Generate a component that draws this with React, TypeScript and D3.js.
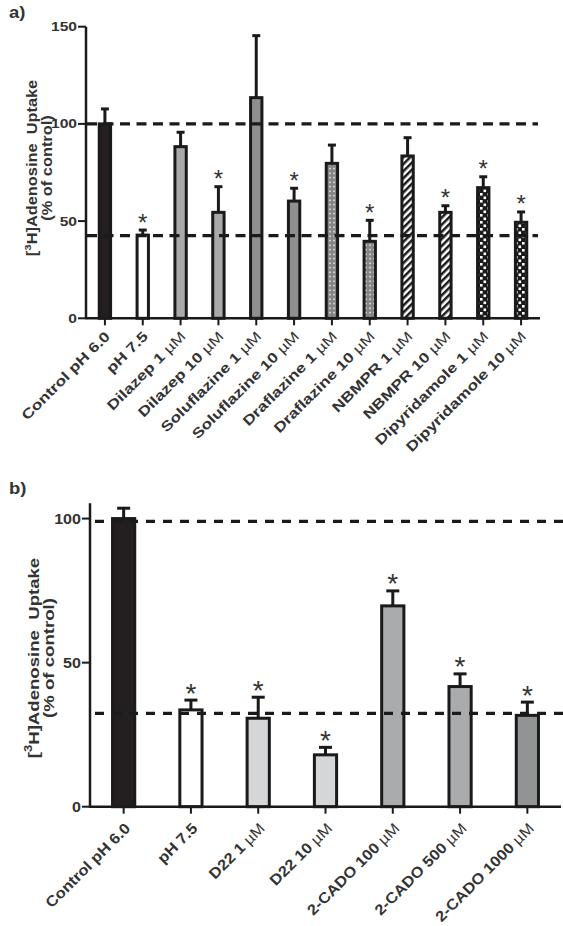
import React from "react";
import * as d3 from "d3";

// Panel a data
const catsA = ["Control pH 6.0", "pH 7.5", "Dilazep 1 µM", "Dilazep 10 µM", "Soluflazine 1 µM", "Soluflazine 10 µM", "Draflazine 1 µM", "Draflazine 10 µM", "NBMPR 1 µM", "NBMPR 10 µM", "Dipyridamole 1 µM", "Dipyridamole 10 µM"];
const valsA = [100, 42.8, 88.3, 54.5, 113.5, 60.3, 79.7, 39.6, 83.5, 54.5, 67.2, 49.4];
const errsA = [107.7, 45.4, 95.7, 67.7, 145.4, 66.9, 89.1, 50.4, 92.9, 57.9, 72.8, 54.7];
const starsA = [false, true, false, true, false, true, false, true, false, true, true, true];
const fillsA = ["#231f20", "#ffffff", "#a9a9a9", "#a9a9a9", "#8f8f8f", "#8f8f8f", "url(#dots)", "url(#dots)", "url(#stripes)", "url(#stripes)", "url(#checker)", "url(#checker)"];
const ticksA = [0, 50, 100, 150];
const refA = [100, 42.5];

// Panel b data
const catsB = ["Control pH 6.0", "pH 7.5", "D22 1 µM", "D22 10 µM", "2-CADO 100 µM", "2-CADO 500 µM", "2-CADO 1000 µM"];
const valsB = [100, 33.6, 30.7, 18.0, 69.7, 41.7, 31.7];
const errsB = [103.6, 37.0, 38.0, 20.6, 74.9, 46.1, 36.3];
const starsB = [false, true, true, true, true, true, true];
const fillsB = ["#231f20", "#ffffff", "#d5d6d8", "#d5d6d8", "#aaabad", "#aaabad", "#929395"];
const ticksB = [0, 50, 100];
const refB = [99, 32.4];

const FONT = "'Liberation Sans', Arial, sans-serif";
const TXT = "#333";

type PanelProps = {
  label: string; labelY: number;
  cats: string[]; vals: number[]; errs: number[]; stars: boolean[]; fills: string[];
  ticks: number[]; refs: number[];
  x0: number; x1: number; y0: number; yTop: number; yMax: number;
  barFrac: number; capW: number; tickFont: number; tickSx: number;
  axisFont: number; axisSx: number; catFont: number; catSx: number;
  catDx: number; catDy: number; starFont: number; starDy: number;
  yLabelCenter: number; yl1: number; yl2: number; dash: string; refX0: number; refX1: number;
};

function Panel(p: PanelProps) {
  const x = d3.scaleBand<string>().domain(p.cats).range([p.x0, p.x1]).padding(0);
  const y = d3.scaleLinear().domain([0, p.yMax]).range([p.y0, p.yTop]);
  const bw = x.step() * p.barFrac;
  return (
    <g>
      <text transform={`translate(9,${p.labelY}) scale(1.15,1)`} fontFamily={FONT} fontWeight="bold" fontSize={16} fill={TXT}>{p.label}</text>
      {/* bars */}
      {p.cats.map((c, i) => {
        const cx = x(c)! + x.bandwidth() / 2;
        return (
          <g key={c}>
            <line x1={cx} x2={cx} y1={y(p.vals[i])} y2={y(p.errs[i])} stroke="#1a1a1a" strokeWidth={3} />
            <line x1={cx - p.capW / 2} x2={cx + p.capW / 2} y1={y(p.errs[i])} y2={y(p.errs[i])} stroke="#1a1a1a" strokeWidth={3} />
            <rect x={cx - bw / 2} y={y(p.vals[i])} width={bw} height={p.y0 - y(p.vals[i])} fill={p.fills[i]} stroke="#1a1a1a" strokeWidth={3} />
            {p.stars[i] && (
              <text x={cx} y={y(p.errs[i]) + p.starDy} textAnchor="middle" fontFamily={FONT} fontSize={p.starFont} fill={TXT}>*</text>
            )}
          </g>
        );
      })}
      {/* reference dashed lines */}
      {p.refs.map((r, i) => (
        <line key={i} x1={p.refX0} x2={p.refX1} y1={y(r)} y2={y(r)} stroke="#1a1a1a" strokeWidth={3.2} strokeDasharray={p.dash} />
      ))}
      {/* y axis */}
      <line x1={p.x0} x2={p.x0} y1={y(p.yMax)} y2={p.y0 + 1} stroke="#1a1a1a" strokeWidth={2.5} />
      {p.ticks.map((t) => (
        <g key={t}>
          <line x1={p.x0 - 8} x2={p.x0} y1={y(t)} y2={y(t)} stroke="#1a1a1a" strokeWidth={2} />
          <text transform={`translate(${p.x0 - 9},${y(t)}) scale(${p.tickSx},1)`} dy="0.36em" textAnchor="end" fontFamily={FONT} fontWeight="bold" fontSize={p.tickFont} fill={TXT}>{t}</text>
        </g>
      ))}
      {/* x axis */}
      <line x1={p.x0} x2={p.x1} y1={p.y0} y2={p.y0} stroke="#1a1a1a" strokeWidth={2.5} />
      {p.cats.map((c) => {
        const cx = x(c)! + x.bandwidth() / 2;
        return (
          <g key={c}>
            <line x1={cx} x2={cx} y1={p.y0} y2={p.y0 + 7} stroke="#1a1a1a" strokeWidth={2} />
            <text transform={`translate(${cx + p.catDx},${p.y0 + p.catDy}) rotate(-45) scale(${p.catSx},1)`} textAnchor="end" fontFamily={FONT} fontWeight="bold" fontSize={p.catFont} fill={TXT}>
              {c.includes("µM") ? (<>{c.replace(" µM", " ")}<tspan fontWeight="normal">µM</tspan></>) : c}
            </text>
          </g>
        );
      })}
      {/* y label */}
      <text transform={`translate(${p.yl1},${p.yLabelCenter}) rotate(-90) scale(${p.axisSx},1)`} textAnchor="middle" fontFamily={FONT} fontWeight="bold" fontSize={p.axisFont} fill={TXT}>
        [<tspan baselineShift="super" fontSize={p.axisFont * 0.7}>3</tspan>H]Adenosine{"\u00a0 "}Uptake
      </text>
      <text transform={`translate(${p.yl2},${p.yLabelCenter}) rotate(-90) scale(${p.axisSx},1)`} textAnchor="middle" fontFamily={FONT} fontWeight="bold" fontSize={p.axisFont} fill={TXT}>
        (% of control)
      </text>
    </g>
  );
}

export default function App() {
  return (
    <svg width={563} height={926} style={{ position: "absolute", left: 0, top: 0, background: "#fff" }}>
      <defs>
        <pattern id="dots" width={4} height={4.5} patternUnits="userSpaceOnUse">
          <rect width={4} height={4.5} fill="#858585" />
          <circle cx={2} cy={2.2} r={0.8} fill="#ffffff" />
        </pattern>
        <pattern id="stripes" width={5} height={10} patternUnits="userSpaceOnUse" patternTransform="rotate(45)">
          <rect width={5} height={10} fill="#ffffff" />
          <rect width={2.5} height={10} fill="#1a1a1a" />
        </pattern>
        <pattern id="checker" width={7} height={7} patternUnits="userSpaceOnUse">
          <rect width={7} height={7} fill="#1a1a1a" />
          <rect x={0.5} y={0.5} width={2.6} height={2.6} fill="#ffffff" />
          <rect x={4} y={4} width={2.6} height={2.6} fill="#ffffff" />
        </pattern>
      </defs>
      <Panel label="a)" labelY={18} cats={catsA} vals={valsA} errs={errsA} stars={starsA} fills={fillsA}
        ticks={ticksA} refs={refA} x0={86} x1={540} y0={318.3} yTop={26.7} yMax={150}
        barFrac={0.3} capW={8} tickFont={12.5} tickSx={1.25} axisFont={14} axisSx={1.17} catFont={14} catSx={1.24}
        catDx={6} catDy={19} starFont={24} starDy={0.5}
        yLabelCenter={168} yl1={37} yl2={52} dash="10 6.5" refX0={87} refX1={538} />
      <Panel label="b)" labelY={494} cats={catsB} vals={valsB} errs={errsB} stars={starsB} fills={fillsB}
        ticks={ticksB} refs={refB} x0={90} x1={561} y0={806.7} yTop={503.3} yMax={105.3}
        barFrac={0.33} capW={13} tickFont={14} tickSx={1.15} axisFont={15.5} axisSx={1.2} catFont={15} catSx={1.1}
        catDx={7.6} catDy={22.5} starFont={28} starDy={2.5}
        yLabelCenter={658} yl1={38.5} yl2={53.5} dash="9 8" refX0={95} refX1={563} />
    </svg>
  );
}
